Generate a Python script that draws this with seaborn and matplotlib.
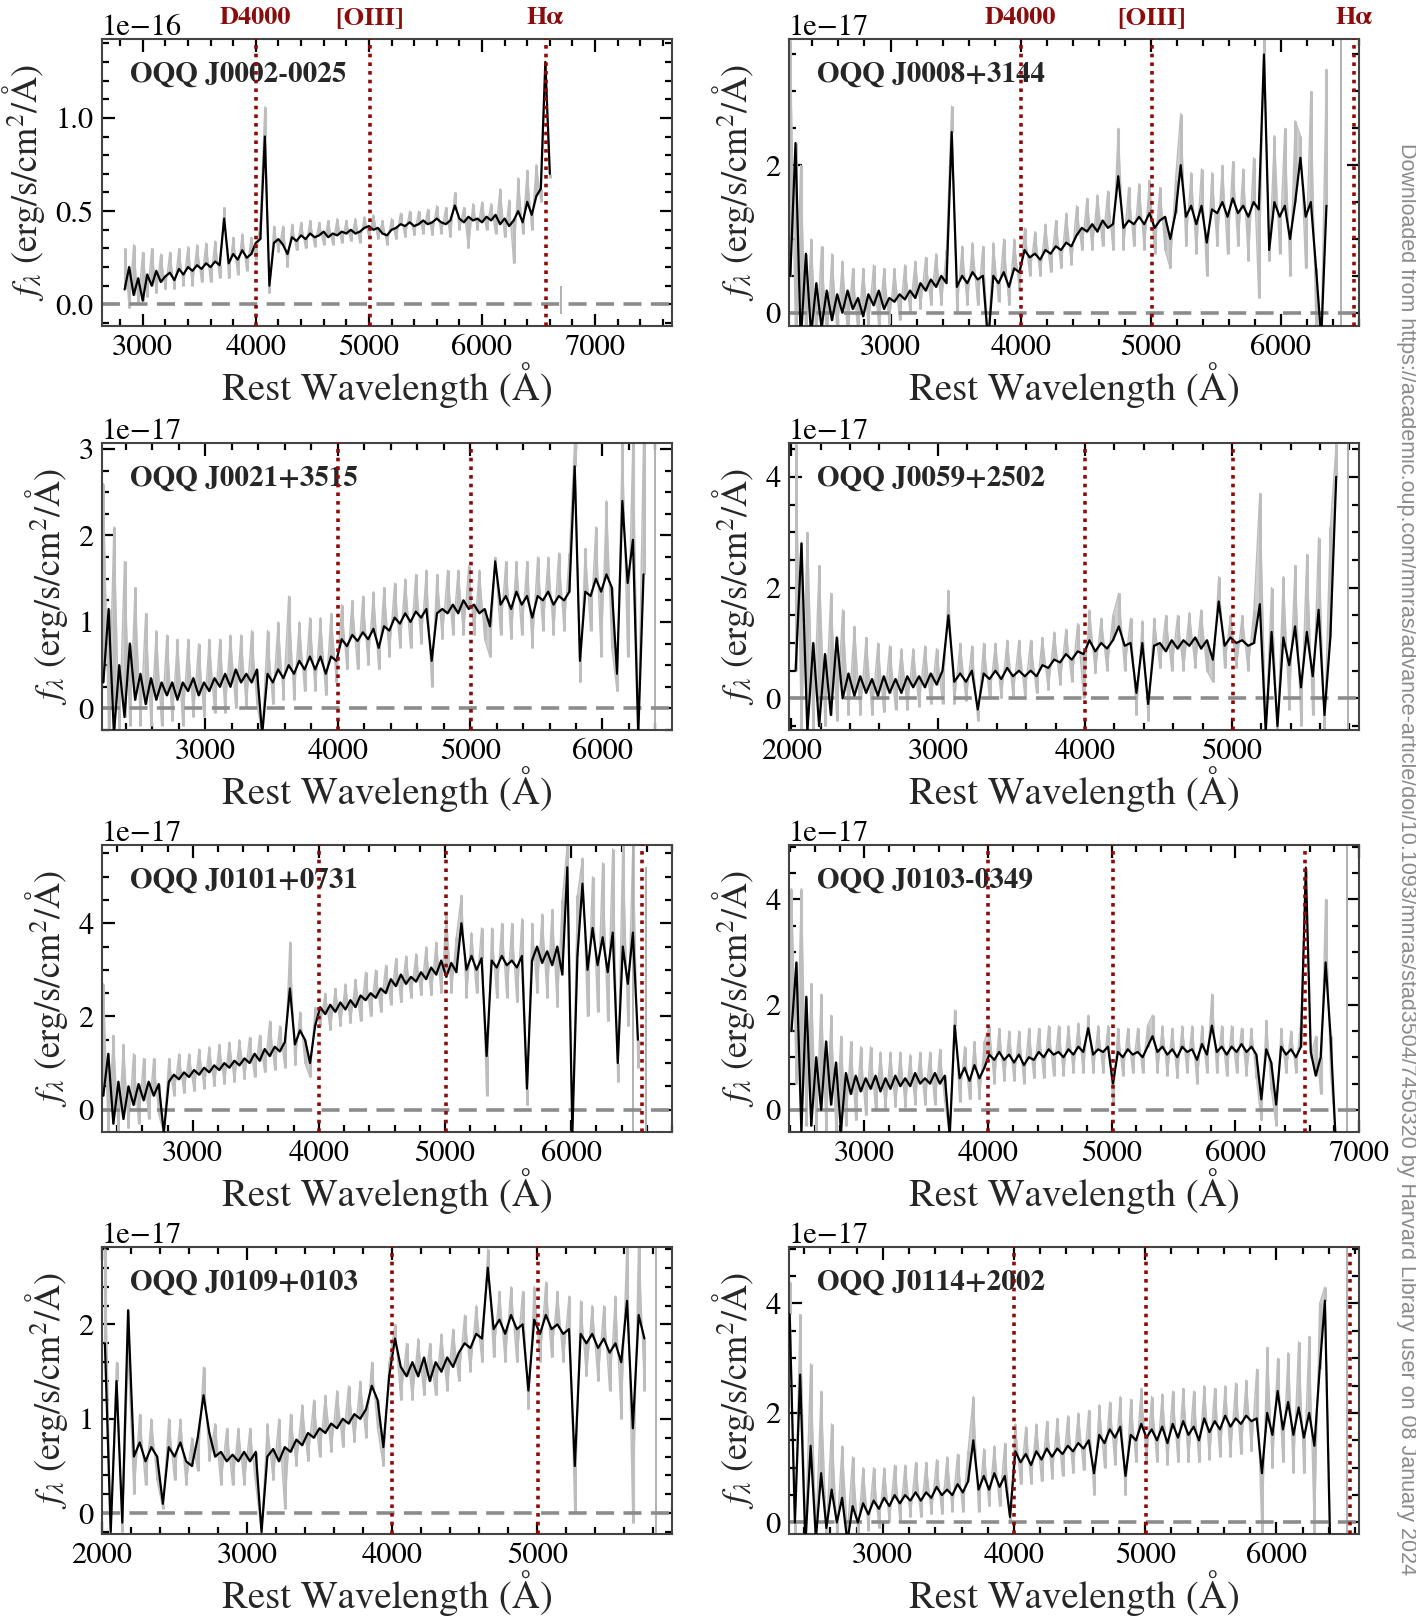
import numpy as np
import matplotlib
matplotlib.use("Agg")
import matplotlib.pyplot as plt
import matplotlib.transforms as mtransforms
from matplotlib.ticker import MultipleLocator
import seaborn as sns

# spectra: black = smoothed flux, gray = raw flux
# wavelength grid: start + 40 A steps; values in units of `unit`
STEP = 40

j0002_start = 2840
j0002_smooth = [0.08, 0.20, 0.05, 0.14, 0.02, 0.16, 0.10, 0.18, 0.12, 0.15,
                0.17, 0.13, 0.19, 0.16, 0.20, 0.18, 0.21, 0.19, 0.22, 0.20,
                0.23, 0.21, 0.46, 0.22, 0.27, 0.24, 0.29, 0.25, 0.27,
                0.33,
                0.35, 0.90, 0.10, 0.33, 0.35, 0.32, 0.27, 0.36, 0.34, 0.37,
                0.35, 0.38, 0.36, 0.37, 0.39, 0.36, 0.38, 0.37, 0.39, 0.38,
                0.40, 0.38, 0.39, 0.41, 0.42, 0.40, 0.41, 0.38, 0.37, 0.40,
                0.41, 0.43, 0.42, 0.44, 0.42, 0.43, 0.45, 0.43, 0.44, 0.46,
                0.44, 0.43, 0.45, 0.53, 0.46, 0.44, 0.47, 0.45, 0.46, 0.44,
                0.47, 0.45, 0.48, 0.43, 0.46, 0.42, 0.45, 0.50, 0.44, 0.55,
                0.48, 0.58, 0.62, 1.30, 0.70]
j0002_raw = [0.30, -0.02, 0.32, 0.00, 0.28, 0.04, 0.30, 0.06, 0.27, 0.08,
             0.28, 0.08, 0.30, 0.10, 0.31, 0.10, 0.32, 0.12, 0.33, 0.12,
             0.34, 0.14, 0.52, 0.14, 0.36, 0.16, 0.38, 0.18, 0.36,
             0.24,
             0.45, 1.06, 0.06, 0.42, 0.28, 0.42, 0.20, 0.43, 0.29, 0.44,
             0.30, 0.45, 0.31, 0.44, 0.32, 0.45, 0.32, 0.46, 0.33, 0.45,
             0.34, 0.46, 0.33, 0.47, 0.36, 0.48, 0.35, 0.45, 0.32, 0.46,
             0.35, 0.49, 0.36, 0.50, 0.37, 0.50, 0.38, 0.51, 0.37, 0.53,
             0.38, 0.52, 0.36, 0.60, 0.40, 0.52, 0.30, 0.54, 0.40, 0.55,
             0.40, 0.54, 0.38, 0.62, 0.36, 0.56, 0.22, 0.68, 0.38, 0.72,
             0.40, 0.75, 0.55, 1.25, 0.68]

j0008_start = 2230
j0008_smooth = [0.5, 2.3, -0.4, 0.8, -0.3, 0.4, -0.2, 0.3, -0.1, 0.25,
                0.0, 0.3, 0.05, 0.2, -0.05, 0.25, 0.1, 0.3, 0.05, 0.2,
                0.15, 0.25, 0.18, 0.3, 0.2, 0.4, 0.3, 0.45, 0.35, 0.5,
                0.4, 2.45, 0.35, 0.5, 0.4, 0.55, 0.45, 0.5, -0.4, 0.5,
                0.4, 0.55, 0.35, 0.6, 0.55, 0.85, 0.75, 0.8, 0.72, 0.85,
                0.8, 0.9, 0.85, 0.95, 0.9, 1.05, 1.15, 1.1, 1.2, 1.1,
                1.25, 1.15, 1.2, 1.85, 1.15, 1.25, 1.2, 1.3, 1.2, 1.35,
                1.15, 1.25, 1.3, 1.0, 1.35, 2.0, 1.3, 1.45, 1.2, 1.45,
                0.95, 1.4, 1.35, 1.5, 1.3, 1.55, 1.35, 1.45, 1.3, 1.5,
                1.4, 3.5, 0.85, 1.5, 1.3, 1.45, 1.0, 1.5, 2.1, 1.3,
                1.5, 0.6, -0.35, 1.45]
j0008_raw = [3.7, -0.3, 2.0, -0.4, 1.0, -0.4, 0.9, -0.4, 0.8, -0.3,
             0.7, -0.3, 0.6, -0.3, 0.6, -0.2, 0.65, -0.2, 0.6, -0.15,
             0.6, -0.1, 0.65, 0.0, 0.7, 0.05, 0.75, 0.1, 0.8, 0.1,
             0.85, 2.8, 0.0, 0.9, 0.1, 0.95, 0.1, 0.9, -0.4, 0.95,
             0.15, 1.0, 0.1, 1.0, 0.3, 1.15, 0.5, 1.1, 0.5, 1.2,
             0.55, 1.25, 0.6, 1.35, 0.65, 1.45, 0.85, 1.55, 0.85, 1.6,
             0.9, 1.65, 0.85, 2.5, 0.85, 1.7, 0.9, 1.75, 0.85, 1.8,
             0.8, 1.7, 0.85, 0.6, 1.8, 2.7, 0.9, 1.9, 0.8, 1.95,
             0.5, 1.9, 0.9, 2.0, 0.8, 2.05, 0.9, 1.95, 0.7, 2.1,
             0.2, 3.8, 0.7, 2.4, 0.8, 2.5, 0.5, 2.6, 2.4, 0.6,
             3.0, -0.3, -0.3, 3.3]

j0021_start = 2230
j0021_smooth = [0.3, 1.15, -0.3, 0.5, -0.1, 0.75, 0.1, 0.4, 0.05, 0.35,
                0.1, 0.3, 0.15, 0.3, 0.1, 0.3, 0.2, 0.35, 0.15, 0.3,
                0.2, 0.35, 0.25, 0.4, 0.25, 0.45, 0.3, 0.4, 0.3, 0.45,
                -0.3, 0.4, 0.3, 0.45, 0.35, 0.5, 0.4, 0.55, 0.45, 0.6,
                0.45, 0.6, 0.4, 0.6, 0.55, 0.8, 0.72, 0.85, 0.78, 0.88,
                0.8, 0.92, 0.7, 0.95, 0.9, 1.05, 0.98, 1.1, 1.0, 1.12,
                1.05, 1.15, 0.55, 1.1, 1.15, 1.1, 1.2, 1.1, 1.25, 1.15,
                1.2, 1.1, 1.15, 0.95, 1.7, 1.2, 1.3, 1.15, 1.35, 1.2,
                1.3, 1.05, 1.3, 1.25, 1.35, 1.2, 1.3, 1.25, 1.35, 2.8,
                0.55, 1.35, 1.3, 1.5, 1.35, 1.55, 1.4, 0.4, 2.4, 1.45,
                1.95, -0.3, 1.55]
j0021_raw = [2.6, -0.3, 2.1, -0.3, 1.7, -0.2, 1.4, -0.2, 1.1, -0.2,
             0.9, -0.2, 0.85, -0.15, 0.8, -0.2, 0.8, -0.1, 0.75, -0.1,
             0.8, -0.05, 0.8, -0.05, 0.85, 0.0, 0.85, 0.0, 0.9, 0.05,
             -0.3, 0.9, 0.05, 1.0, 0.1, 1.3, 0.1, 1.0, 0.2, 1.05,
             0.2, 1.05, 0.15, 1.1, 0.3, 1.2, 0.45, 1.25, 0.45, 1.3,
             0.5, 1.35, 0.45, 1.4, 0.6, 1.45, 0.7, 1.5, 0.7, 1.55,
             0.75, 1.6, 0.25, 1.55, 0.8, 1.6, 0.85, 1.6, 0.85, 1.65,
             0.85, 1.6, 0.8, 0.6, 1.75, 0.85, 1.7, 0.8, 1.7, 0.85,
             1.7, 0.7, 1.75, 0.9, 1.75, 0.85, 1.8, 0.9, 1.8, 3.1,
             0.3, 1.85, 0.9, 2.1, 0.6, 2.4, 0.7, 0.2, 3.1, 0.6,
             3.1, -0.3, 3.1]

j0059_start = 2030
j0059_smooth = [0.5, 2.8, -0.6, 1.0, -0.5, 0.8, -0.3, 1.1, 0.0, 0.45,
                0.05, 0.4, 0.1, 0.35, 0.05, 0.4, 0.1, 0.35, 0.1, 0.4,
                0.2, 0.4, 0.2, 0.45, 0.25, 0.5, 1.5, 0.3, 0.45, 0.3,
                0.5, -0.2, 0.45, 0.35, 0.5, 0.35, 0.55, 0.4, 0.5, 0.4,
                0.5, 0.4, 0.6, 0.55, 0.7, 0.65, 0.8, 0.7, 0.85, 0.8,
                1.05, 0.85, 1.0, 0.9, 1.05, 1.3, 0.95, 1.0, 0.1, 1.0,
                -0.1, 0.95, 1.0, 0.85, 1.05, 0.9, 1.05, 0.95, 1.1, 0.9,
                1.05, 0.7, 1.75, 0.95, 1.1, 1.0, 1.05, 0.95, 1.0, 1.7,
                -0.6, 1.2, -0.5, 1.1, 0.6, 1.3, 0.2, 1.2, 0.4, 1.6,
                -0.3, 1.1, 4.0]
j0059_raw = [4.6, -0.6, 3.0, -0.6, 2.4, -0.5, 1.9, -0.4, 1.6, -0.3,
             1.3, -0.3, 1.1, -0.3, 1.0, -0.25, 0.95, -0.2, 0.9, -0.2,
             0.9, -0.15, 0.95, -0.1, 0.9, -0.1, 1.95, -0.1, 1.0, -0.05,
             0.95, -0.4, 1.0, 0.0, 1.0, 0.0, 1.05, 0.05, 1.05, 0.05,
             1.05, 0.1, 1.1, 0.15, 1.2, 0.25, 1.25, 0.3, 1.35, 0.0,
             1.6, 0.45, 1.45, 0.5, 1.5, 1.9, 0.5, 1.45, -0.3, 1.4,
             -0.4, 1.45, 0.55, 1.5, 0.5, 1.5, 0.5, 1.55, 0.55, 1.6,
             0.5, 0.3, 2.2, 0.55, 1.5, 0.55, 1.5, 0.5, 1.6, 3.7,
             -0.6, 2.0, -0.6, 2.2, -0.2, 2.4, -0.5, 2.6, -0.3, 2.9,
             -0.6, 3.1, 4.6]

j0101_start = 2290
j0101_smooth = [0.3, 1.2, -0.3, 0.6, -0.2, 0.5, 0.1, 0.55, 0.2, 0.6,
                0.3, 0.55, -0.5, 0.6, 0.75, 0.65, 0.8, 0.7, 0.85, 0.75,
                0.9, 0.8, 0.95, 0.85, 1.0, 0.9, 1.05, 0.95, 1.1, 1.0,
                1.2, 1.05, 1.3, 1.15, 1.35, 1.25, 1.45, 2.6, 1.4, 1.7,
                1.5, 1.0, 1.8, 2.2, 2.05, 2.25, 2.1, 2.3, 2.15, 2.35,
                2.2, 2.45, 2.35, 2.5, 2.4, 2.6, 2.5, 2.8, 2.65, 2.9,
                2.7, 2.85, 2.75, 2.95, 2.8, 3.05, 2.9, 3.2, 2.85, 3.15,
                2.95, 4.0, 3.0, 3.3, 3.0, 3.25, 1.15, 3.2, 3.05, 3.3,
                3.1, 3.2, 3.05, 3.3, 0.45, 3.2, 3.5, 3.15, 3.4, 3.1,
                3.5, 2.9, 5.2, -0.5, 3.3, 4.85, 3.0, 3.9, 3.1, 3.7,
                2.95, 3.8, 1.0, 3.5, 2.7, 3.8, 1.5]
j0101_raw = [2.7, -0.5, 1.6, -0.5, 1.4, -0.4, 1.2, -0.3, 1.1, -0.2,
             1.1, -0.1, -0.5, 1.1, 0.3, 1.2, 0.35, 1.2, 0.4, 1.3,
             0.45, 1.35, 0.5, 1.4, 0.55, 1.45, 0.6, 1.5, 0.65, 1.55,
             0.7, 1.6, 0.8, 1.9, 0.85, 1.8, 0.9, 3.6, 0.95, 2.1,
             1.0, 0.7, 2.2, 1.8, 2.5, 1.7, 2.6, 1.8, 2.7, 1.85,
             2.8, 1.9, 2.95, 2.0, 3.0, 2.1, 3.1, 2.25, 3.25, 2.3,
             3.3, 2.4, 3.35, 2.45, 3.5, 2.45, 3.6, 2.5, 4.2, 2.5,
             3.7, 4.6, 2.4, 3.8, 2.5, 3.9, 0.3, 3.9, 2.4, 4.0,
             2.4, 4.0, 2.3, 4.1, 0.1, 4.0, 2.5, 4.2, 2.4, 4.3,
             2.2, 4.5, 5.7, -0.5, 4.6, 5.4, 2.0, 5.0, 2.1, 5.3,
             1.9, 5.6, 0.6, 5.7, 1.8, 5.7, 0.9]

j0103_start = 2410
j0103_smooth = [1.5, 2.8, -0.4, 2.15, -0.3, 1.0, 0.0, 1.3, 0.1, 0.9,
                -0.4, 0.7, 0.3, 0.65, 0.35, 0.6, 0.4, 0.65, 0.35, 0.6,
                0.4, 0.65, 0.45, 0.6, 0.45, 0.7, 0.5, 0.6, 0.5, 0.7,
                0.5, 0.65, -0.5, 1.6, 0.6, 0.8, 0.55, 0.85, 0.6, 0.8,
                1.05, 0.95, 1.1, 0.95, 1.05, 0.9, 1.05, 0.85, 1.0, 0.95,
                1.1, 1.0, 1.15, 1.05, 1.1, 1.0, 1.15, 1.05, 1.2, 1.1,
                1.55, 1.05, 1.15, 1.1, 1.2, 0.5, 1.1, 1.0, 1.15, 1.05,
                1.1, 1.0, 1.2, 1.4, 1.1, 1.2, 1.05, 1.15, 1.0, 1.2,
                1.1, 1.15, 0.95, 1.25, 1.05, 1.6, 1.1, 1.2, 1.05, 1.2,
                1.1, 1.25, 1.1, 1.2, 1.05, 0.2, 1.15, 0.9, 0.1, 1.2,
                1.05, 1.15, 1.0, 1.2, 4.6, 1.1, 0.65, 1.0, 2.8, 1.4,
                -0.5]
j0103_raw = [4.2, 0.5, 4.2, -0.3, 2.4, -0.4, 2.2, -0.4, 1.8, -0.4,
             1.4, -0.3, 1.3, -0.2, 1.2, -0.1, 1.2, 0.0, 1.1, 0.0,
             1.1, 0.05, 1.1, 0.05, 1.05, 0.1, 1.1, 0.1, 1.1, 0.1,
             1.15, 0.15, -0.5, 1.9, 0.15, 1.2, 0.2, 1.3, 0.2, 1.3,
             1.6, 0.5, 1.55, 0.55, 1.5, 0.55, 1.5, 0.5, 1.55, 0.6,
             1.55, 0.6, 1.6, 0.65, 1.6, 0.65, 1.6, 0.7, 1.65, 0.7,
             1.8, 0.7, 1.6, 0.7, 1.6, 0.1, 1.55, 0.65, 1.55, 0.7,
             1.55, 0.7, 1.6, 1.8, 0.7, 1.6, 0.65, 1.55, 0.6, 1.6,
             0.7, 1.6, 0.5, 1.6, 0.7, 2.2, 0.7, 1.6, 0.65, 1.6,
             0.7, 1.55, 0.65, 1.55, 0.6, -0.2, 1.7, 0.4, -0.3, 1.55,
             0.7, 1.5, 0.7, 1.7, 4.4, 1.0, 1.4, 0.3, 4.0, 0.7,
             -0.5]

j0109_start = 2020
j0109_smooth = [1.8, -0.2, 1.4, -0.1, 2.15, 0.6, 0.75, 0.55, 0.7, 0.6,
                0.1, 0.7, 0.6, 0.75, 0.55, 0.5, 0.8, 1.25, 0.85, 0.6,
                0.65, 0.55, 0.62, 0.55, 0.65, 0.55, 0.65, -0.2, 0.6, 0.68,
                0.55, 0.7, 0.65, 0.78, 0.72, 0.85, 0.8, 0.9, 0.85, 0.95,
                0.9, 1.0, 0.95, 1.05, 1.0, 1.1, 1.35, 1.2, 0.7, 1.45,
                1.85, 1.55, 1.45, 1.6, 1.45, 1.65, 1.4, 1.6, 1.5, 1.65,
                1.55, 1.7, 1.8, 1.75, 1.9, 1.85, 2.6, 1.95, 2.05, 1.9,
                2.1, 1.95, 2.0, 1.3, 2.05, 1.9, 2.1, 1.95, 2.0, 1.9,
                1.95, 0.5, 1.9, 1.8, 1.9, 1.75, 1.85, 1.7, 1.8, 1.6,
                2.25, 0.9, 2.1, 1.85]
j0109_raw = [2.8, -0.2, 1.6, -0.2, 1.7, 0.2, 1.05, 0.3, 1.0, 0.35,
             0.05, 1.0, 0.35, 1.0, 0.3, 0.8, 0.45, 1.55, 0.55, 0.95,
             0.3, 0.9, 0.3, 0.9, 0.3, 0.9, 0.3, -0.2, 0.95, 0.35,
             1.0, 0.05, 1.05, 0.5, 1.15, 0.55, 1.2, 0.6, 1.25, 0.65,
             1.3, 0.7, 1.35, 0.75, 1.4, 0.8, 1.6, 0.9, 0.5, 1.6,
             2.0, 1.2, 1.8, 1.2, 1.85, 1.25, 1.8, 1.25, 1.9, 1.3,
             1.95, 1.4, 2.1, 1.5, 2.2, 1.6, 2.8, 1.65, 2.35, 1.6,
             2.4, 1.6, 2.35, 1.1, 2.4, 1.6, 2.45, 1.65, 2.35, 1.6,
             2.3, 0.0, 2.25, 1.45, 2.2, 1.4, 2.2, 1.3, 2.3, 1.0,
             2.9, -0.1, 2.9, 1.3]

j0114_start = 2290
j0114_smooth = [3.8, 0.0, 2.7, -0.4, 1.4, -0.3, 0.9, -0.1, 0.6, 0.0,
                0.45, -0.35, 0.3, 0.0, 0.35, 0.15, 0.4, 0.25, 0.45, 0.3,
                0.5, 0.35, 0.5, 0.4, 0.55, 0.4, 0.55, 0.45, 0.65, 0.5,
                0.6, 0.5, 0.7, 0.55, 0.75, 1.5, 0.6, 0.85, 0.6, 0.9,
                0.65, 0.85, 0.1, 1.3, 1.1, 1.25, 1.05, 1.3, 1.15, 1.35,
                1.2, 1.35, 1.25, 1.4, 1.3, 1.45, 1.35, 1.5, 0.9, 1.6,
                1.45, 1.7, 1.55, 1.75, 0.85, 1.6, 1.5, 1.8, 1.55, 1.7,
                1.5, 1.75, 1.45, 1.8, 1.55, 1.85, 1.6, 1.75, 1.5, 1.9,
                1.65, 1.85, 1.7, 1.95, 1.75, 1.9, 1.8, 1.95, 1.85, 1.9,
                0.9, 2.0, 1.6, 2.4, 1.7, 2.2, 1.6, 2.1, 1.55, 2.0,
                1.4, 2.8, 4.05, -0.4]
j0114_raw = [4.4, -0.2, 3.8, -0.2, 2.9, -0.2, 2.4, -0.2, 1.8, -0.2,
             1.4, -0.2, 1.2, -0.2, 1.0, -0.15, 1.0, -0.1, 1.0, 0.0,
             1.05, 0.05, 1.05, 0.1, 1.1, 0.1, 1.1, 0.15, 1.15, 0.15,
             1.2, 0.2, 1.25, 0.2, 1.3, 2.3, 0.2, 1.35, 0.3, 1.4,
             0.3, 1.45, 0.0, 1.8, 0.7, 1.75, 0.7, 1.8, 0.75, 1.85,
             0.8, 1.9, 0.85, 1.95, 0.9, 2.0, 0.95, 2.05, 0.5, 2.15,
             1.0, 2.2, 1.05, 2.3, 0.5, 2.25, 1.1, 2.45, 1.1, 2.3,
             1.1, 2.35, 1.05, 2.4, 1.1, 2.45, 1.1, 2.4, 1.1, 2.5,
             1.15, 2.45, 1.2, 2.5, 1.2, 2.55, 1.25, 2.6, 1.3, 2.8,
             -0.2, 3.2, 1.0, 3.0, 1.1, 3.1, 0.9, 3.3, 0.9, 3.4,
             -0.2, 4.0, 4.3, -0.2]

# lone bad pixels in the raw spectrum: (wavelength, low, high)
j0002_stray = [(6700, -0.05, 0.10)]
j0008_stray = [(6460, -0.3, 3.8)]
j0021_stray = [(6400, -0.3, 3.1)]
j0059_stray = [(5790, -0.6, 4.7)]
j0101_stray = [(6490, -0.5, 5.7), (6590, -0.5, 5.2)]
j0103_stray = [(6900, -0.5, 5.1)]
j0109_stray = [(5820, -0.3, 2.9)]
j0114_stray = [(6540, -0.3, 5.1)]

names = ["OQQ J0002-0025", "OQQ J0008+3144", "OQQ J0021+3515", "OQQ J0059+2502",
         "OQQ J0101+0731", "OQQ J0103-0349", "OQQ J0109+0103", "OQQ J0114+2002"]
units = [1e-16, 1e-17, 1e-17, 1e-17, 1e-17, 1e-17, 1e-17, 1e-17]
starts = [j0002_start, j0008_start, j0021_start, j0059_start,
          j0101_start, j0103_start, j0109_start, j0114_start]
smooth = [j0002_smooth, j0008_smooth, j0021_smooth, j0059_smooth,
          j0101_smooth, j0103_smooth, j0109_smooth, j0114_smooth]
raw = [j0002_raw, j0008_raw, j0021_raw, j0059_raw,
       j0101_raw, j0103_raw, j0109_raw, j0114_raw]
strays = [j0002_stray, j0008_stray, j0021_stray, j0059_stray,
          j0101_stray, j0103_stray, j0109_stray, j0114_stray]
xlims = [(2640, 7680), (2220, 6600), (2220, 6525), (1985, 5865),
         (2280, 6800), (2390, 7000), (2000, 5930), (2285, 6630)]
ylims = [(-0.116, 1.423), (-0.18, 3.71), (-0.25, 3.07), (-0.57, 4.61),
         (-0.48, 5.68), (-0.42, 5.03), (-0.22, 2.82), (-0.21, 5.03)]
ymajor = [0.5, 2, 1, 2, 2, 2, 1, 2]
yminor = [0.1, 0.5, 0.25, 0.5, 0.5, 0.5, 0.2, 0.5]

line_waves = [4000, 5007, 6563]
line_names = ["D4000", "[OIII]", "Hα"]

watermark = ("Downloaded from https://academic.oup.com/mnras/advance-article/doi/"
             "10.1093/mnras/stad3504/7450320 by Harvard Library user on 08 January 2024")

sns.set_style("ticks")
plt.rcParams["font.family"] = ["STIXGeneral", "DejaVu Serif"]
plt.rcParams["mathtext.fontset"] = "stix"
plt.rcParams["xtick.labelsize"] = 22
plt.rcParams["ytick.labelsize"] = 22

W, H = 1416, 1623
fig = plt.figure(figsize=(W / 100, H / 100), dpi=100)

col_x = [102, 789]
row_top = [39, 443, 845, 1247]
aw, ah = 570, 287
dark_red = "#8b0a0a"
gray = "#bdbdbd"

for k in range(8):
    r, c = divmod(k, 2)
    ax = fig.add_axes([col_x[c] / W, 1 - (row_top[r] + ah) / H, aw / W, ah / H])
    u = units[k]
    wave = np.arange(len(smooth[k])) * STEP + starts[k]
    f_s = np.array(smooth[k]) * u
    f_r = np.array(raw[k]) * u

    # raw flux: pixel-to-pixel scatter around the smoothed spectrum
    ax.fill_between(wave, f_s, f_r, color="#cfcfcf", lw=0, zorder=1)
    ax.vlines(wave, f_s, f_r, color=gray, lw=2.2, zorder=1)
    sns.lineplot(x=wave, y=f_r, ax=ax, color=gray, lw=1.0,
                 sort=False, estimator=None, zorder=1)
    for wl, lo, hi in strays[k]:
        ax.vlines(wl, lo * u, hi * u, color="#b0b0b0", lw=1.4, zorder=1)
    ax.axhline(0, color="#8c8c8c", lw=2.6, ls=(0, (5, 2.6)), zorder=2)
    sns.lineplot(x=wave, y=f_s, ax=ax, color="black", lw=1.6,
                 sort=False, estimator=None, zorder=3)
    for wl in line_waves:
        ax.axvline(wl, color=dark_red, lw=2.6, ls=(0, (1, 1.4)), zorder=4)

    ax.set_xlim(*xlims[k])
    ax.set_ylim(ylims[k][0] * u, ylims[k][1] * u)
    ax.xaxis.set_major_locator(MultipleLocator(1000))
    ax.xaxis.set_minor_locator(MultipleLocator(200))
    ax.yaxis.set_major_locator(MultipleLocator(ymajor[k] * u))
    ax.yaxis.set_minor_locator(MultipleLocator(yminor[k] * u))
    ax.tick_params(which="both", direction="in", top=True, right=True,
                   colors="black", width=1.6)
    ax.tick_params(which="major", length=9, pad=6)
    ax.tick_params(which="minor", length=5)
    ax.yaxis.get_offset_text().set_fontsize(22)
    for sp in ax.spines.values():
        sp.set_linewidth(1.5)
        sp.set_color("#444444")

    ax.set_xlabel("Rest Wavelength (Å)", fontsize=28, labelpad=0)
    ax.set_ylabel("$f_\\lambda$ (erg/s/cm$^2$/Å)", fontsize=26, labelpad=6)
    ax.text(0.05, 0.875, names[k], transform=ax.transAxes, fontsize=21,
            fontweight="bold", va="center", ha="left")

    if r == 0:
        trans = mtransforms.blended_transform_factory(ax.transData, ax.transAxes)
        for wl, nm in zip(line_waves, line_names):
            ax.text(wl, 1.035, nm, transform=trans, color=dark_red,
                    fontsize=19, fontweight="bold", ha="center", va="bottom",
                    clip_on=False)

fig.text(0.9935, 0.912, watermark, rotation=270, ha="center", va="top",
         fontsize=15.5, color="#8a8a8a", family=["Liberation Sans", "DejaVu Sans"])

fig.savefig("out.png", dpi=100)
